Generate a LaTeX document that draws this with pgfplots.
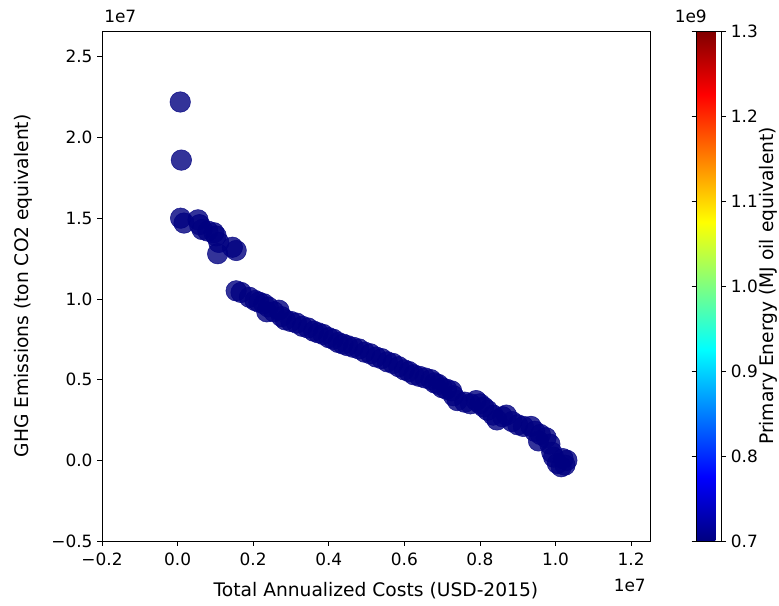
\documentclass[border=0pt]{standalone}
\usepackage{fontspec}
\setmainfont{DejaVu Sans}
\usepackage{pgfplots}
\usepackage{pgfplotstable}
\pgfplotsset{compat=1.18}
\usetikzlibrary{calc}

% x in 1e7 USD, y in 1e7 t CO2, e in 1e9 MJ
\pgfplotstableread{
x y e
0.007 2.22 0.7
0.010 1.86 0.7
0.008 1.50 0.7
0.017 1.47 0.7
0.054 1.49 0.7
0.058 1.46 0.7
0.065 1.43 0.7
0.080 1.42 0.7
0.096 1.41 0.7
0.102 1.39 0.7
0.109 1.35 0.7
0.106 1.28 0.7
0.145 1.32 0.7
0.155 1.30 0.7
0.155 1.05 0.7
0.168 1.04 0.7
0.190 1.01 0.7
0.205 0.99 0.7
0.215 0.98 0.7
0.228 0.97 0.7
0.240 0.95 0.7
0.236 0.92 0.7
0.255 0.92 0.7
0.268 0.93 0.7
0.275 0.89 0.7
0.285 0.87 0.7
0.300 0.86 0.7
0.315 0.85 0.7
0.330 0.83 0.7
0.345 0.82 0.7
0.360 0.80 0.7
0.372 0.79 0.7
0.385 0.78 0.7
0.400 0.76 0.7
0.412 0.75 0.7
0.425 0.73 0.7
0.438 0.72 0.7
0.450 0.71 0.7
0.465 0.70 0.7
0.480 0.69 0.7
0.495 0.67 0.7
0.510 0.66 0.7
0.525 0.64 0.7
0.540 0.63 0.7
0.555 0.61 0.7
0.570 0.60 0.7
0.585 0.58 0.7
0.600 0.56 0.7
0.612 0.55 0.7
0.625 0.53 0.7
0.640 0.52 0.7
0.655 0.51 0.7
0.670 0.50 0.7
0.680 0.48 0.7
0.690 0.47 0.7
0.700 0.45 0.7
0.712 0.44 0.7
0.725 0.43 0.7
0.730 0.40 0.7
0.740 0.37 0.7
0.760 0.36 0.7
0.775 0.35 0.7
0.790 0.37 0.7
0.800 0.35 0.7
0.810 0.33 0.7
0.820 0.31 0.7
0.835 0.28 0.7
0.845 0.25 0.7
0.860 0.27 0.7
0.870 0.28 0.7
0.885 0.24 0.7
0.900 0.22 0.7
0.915 0.21 0.7
0.935 0.21 0.7
0.945 0.18 0.7
0.960 0.16 0.7
0.955 0.12 0.7
0.975 0.14 0.7
0.985 0.10 0.7
0.990 0.05 0.7
0.995 0.02 0.7
1.005 -0.02 0.7
1.015 -0.04 0.7
1.025 -0.03 0.7
1.030 0.00 0.7
1.020 0.01 0.7
}\ghgdata

\begin{document}
\begin{tikzpicture}[font=\fontsize{12.7}{15}\selectfont]
\begin{axis}[
    name=main,
    scale only axis,
    width=411pt, height=382.5pt,
    xmin=-0.2, xmax=1.25,
    ymin=-0.5, ymax=2.66,
    xtick={-0.2,0,0.2,0.4,0.6,0.8,1.0,1.2},
    xticklabels={−0.2,0.0,0.2,0.4,0.6,0.8,1.0,1.2},
    ytick={-0.5,0,0.5,1,1.5,2,2.5},
    yticklabels={−0.5,0.0,0.5,1.0,1.5,2.0,2.5},
    tick pos=left, tick align=outside,
    major tick length=3.6pt,
    every tick/.style={black, line width=0.6pt},
    axis line style={line width=0.6pt},
    tick label style={font=\fontsize{12.7}{15}\selectfont},
    xticklabel style={yshift=-1.5pt},
    colormap/jet,
    point meta min=0.7, point meta max=1.3,
    colorbar,
    colorbar style={
        at={(parent axis.north east)}, anchor=north west,
        xshift=26.25pt, width=18.75pt,
        ytick={0.7,0.8,0.9,1.0,1.1,1.2,1.3},
        yticklabels={0.7,0.8,0.9,1.0,1.1,1.2,1.3},
        tick align=outside, major tick length=3.6pt,
        every tick/.style={black, line width=0.6pt},
        axis line style={line width=0.6pt},
        tick label style={font=\fontsize{12.7}{15}\selectfont},
    },
]
\addplot[scatter, only marks, mark=*, mark size=7.7pt,
    fill opacity=0.8, draw opacity=0.8,
    scatter/use mapped color={draw=mapped color, fill=mapped color},
    point meta=explicit]
    table[x=x, y=y, meta=e] {\ghgdata};
\coordinate (bl) at (rel axis cs:0,0);
\coordinate (tr) at (rel axis cs:1,1);
\end{axis}
% axis labels and matplotlib-style offset texts
\node[anchor=base, inner sep=0pt, font=\fontsize{14}{16}\selectfont]
    at ($(bl)!0.5!(tr|-bl)+(0,-42pt)$) {Total Annualized Costs (USD-2015)};
\node[rotate=90, inner sep=0pt, font=\fontsize{14}{16}\selectfont]
    at ($(bl)!0.5!(bl|-tr)+(-58.9pt,0)$) {GHG Emissions (ton CO2 equivalent)};
\node[rotate=90, inner sep=0pt, font=\fontsize{14}{16}\selectfont]
    at ($(tr|-bl)!0.5!(tr)+(88.5pt,0)$) {Primary Energy (MJ oil equivalent)};
\node[anchor=south west, inner sep=0pt] at ($(bl|-tr)+(1.5pt,6pt)$) {1e7};
\node[anchor=north east, inner sep=0pt] at ($(tr|-bl)+(-3pt,-28.5pt)$) {1e7};
\node[anchor=south east, inner sep=0pt] at ($(tr)+(42.75pt,6pt)$) {1e9};
\pgfresetboundingbox
\path[use as bounding box] ($(bl)+(-76.5pt,-48.75pt)$) rectangle ($(bl|-tr)+(507.75pt,23.25pt)$);
\end{tikzpicture}
\end{document}
